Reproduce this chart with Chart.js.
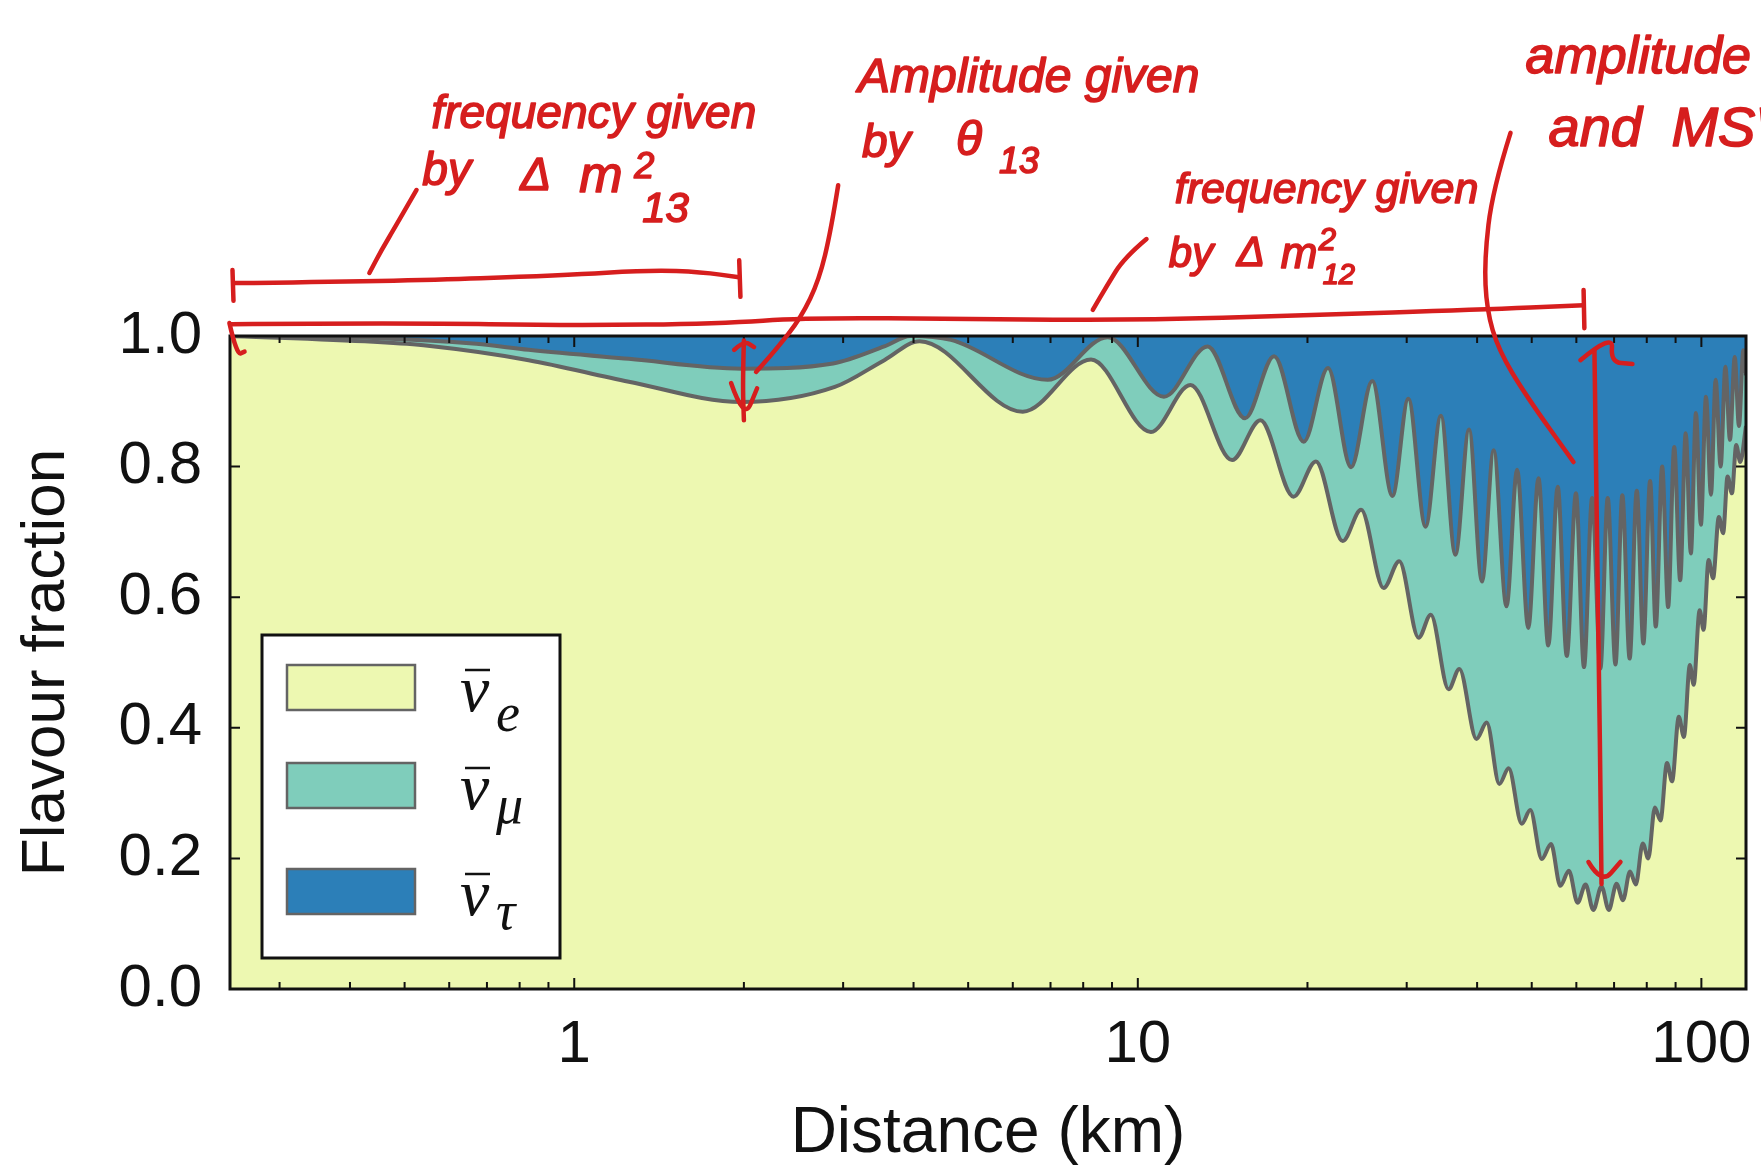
<!DOCTYPE html>
<html>
<head>
<meta charset="utf-8">
<script src="https://cdn.jsdelivr.net/npm/chart.js@4.4.1/dist/chart.umd.min.js"></script>
<style>
  html, body { margin: 0; padding: 0; background: #ffffff; }
  #wrap { width: 1761px; height: 1173px; }
</style>
</head>
<body>
<div id="wrap"><canvas id="flavour" width="1761" height="1173"></canvas></div>
<script>
// Boundary between the electron and muon antineutrino bands (= ν̄e fraction)
const nuEDistanceKm = [0.245, 0.44, 0.55, 0.83, 1.25, 1.98, 2.9, 3.55, 4.1, 6.25, 8.26, 10.55, 12.4, 14.7,
  16.5, 18.9, 20.7, 23.1, 24.9, 27.3, 29.1, 31.5, 33.1, 35.6, 37.2, 39.9, 41.6, 43.8, 45.5, 48.0, 49.7,
  52.1, 54.1, 56.2, 58.2, 60.3, 62.3, 64.3, 66.5, 68.5, 70.7, 72.6, 74.7, 76.5, 78.7, 80.5, 82.7, 84.6,
  86.9, 88.7, 91.2, 93.1, 95.4, 96.9, 99.3, 100.9, 103.0, 104.9, 107.4, 109.3, 111.3, 113.3, 115.3,
  117.2, 120];
const nuEFraction = [1.0, 0.991, 0.985, 0.963, 0.930, 0.899, 0.922, 0.963, 0.992, 0.884, 0.964, 0.853, 0.925, 0.810,
  0.871, 0.754, 0.808, 0.686, 0.734, 0.614, 0.655, 0.538, 0.573, 0.459, 0.490, 0.383, 0.408, 0.314, 0.338, 0.253, 0.274,
  0.199, 0.222, 0.158, 0.181, 0.132, 0.160, 0.121, 0.157, 0.121, 0.161, 0.136, 0.180, 0.160, 0.223, 0.200, 0.278, 0.258,
  0.346, 0.318, 0.417, 0.386, 0.496, 0.466, 0.580, 0.550, 0.657, 0.629, 0.723, 0.698, 0.785, 0.759, 0.833,
  0.807, 0.862];

// Boundary between the muon and tau antineutrino bands (= ν̄e + ν̄μ fraction)
const nuEMuDistanceKm = [0.245, 0.44, 0.67, 0.83, 1.25, 1.98, 2.88, 3.55, 3.95, 4.66, 6.92, 8.84, 11.13, 13.3,
  15.5, 17.45, 19.7, 21.75, 23.9, 26.06, 28.3, 30.2, 32.4, 34.5, 36.6, 38.7, 40.8, 42.8, 45.1, 47.1, 49.3,
  51.4, 53.5, 55.6, 57.7, 59.9, 61.9, 64.0, 66.2, 68.2, 70.4, 72.4, 74.6, 76.8, 78.9, 81.1, 83.0, 85.2,
  87.3, 89.5, 91.7, 93.8, 95.8, 97.8, 99.8, 101.9, 104.0, 106.0, 108.2, 110.3, 112.4, 114.6, 116.6, 118.7, 120];
const nuEMuFraction = [1.0, 0.997, 0.988, 0.979, 0.965, 0.950, 0.958, 0.984, 1.0, 0.994, 0.933, 0.998, 0.907, 0.984,
  0.874, 0.969, 0.838, 0.951, 0.799, 0.931, 0.755, 0.904, 0.708, 0.878, 0.665, 0.857, 0.624, 0.825, 0.586, 0.795, 0.553,
  0.782, 0.526, 0.769, 0.510, 0.759, 0.493, 0.752, 0.491, 0.752, 0.497, 0.756, 0.506, 0.763, 0.529, 0.778, 0.555, 0.800,
  0.585, 0.830, 0.626, 0.851, 0.667, 0.882, 0.711, 0.907, 0.757, 0.933, 0.800, 0.953, 0.841, 0.968, 0.862, 0.978, 0.940];

// Axis ticks
const yTickValues = [0, 0.2, 0.4, 0.6, 0.8, 1.0];
const xLabelValues = [1, 10, 100];
const xMinorTicks = [0.3, 0.4, 0.5, 0.6, 0.7, 0.8, 0.9, 2, 3, 4, 5, 6, 7, 8, 9, 20, 30, 40, 50, 60, 70, 80, 90];

// Legend entries
const legendFlavours = ['e', 'μ', 'τ'];

const COLORS = { e: '#edf8b1', mu: '#7fcdbb', tau: '#2c7fb8', edge: '#646464', ink: '#d61e1e' };

// Pen strokes of the hand-written notes, in (km, fraction) coordinates
const inkStrokes = [
  [[0.2485, 1.081], [0.49, 1.084], [0.95, 1.093], [1.37, 1.101], [1.68, 1.098], [1.96, 1.090]],
  [[0.2475, 1.101], [0.2485, 1.054]],
  [[1.962, 1.116], [1.972, 1.060]],
  [[0.2465, 1.018], [0.5, 1.020], [1.0, 1.016], [1.8, 1.019], [2.6, 1.028], [5, 1.026], [10, 1.024], [20, 1.032], [40, 1.040], [61.8, 1.047]],
  [[61.8, 1.0705], [62.0, 1.012]],
  [[0.2444, 1.02], [0.2518, 0.971], [0.26, 0.976]],
  [[2.0, 0.993], [1.99, 0.93], [2.0, 0.871]],
  [[1.922, 0.9786], [2.0, 0.993], [2.085, 0.983]],
  [[1.898, 0.928], [2.0, 0.871], [2.111, 0.920]],
  [[2.94, 1.231], [2.855, 1.162], [2.72, 1.086], [2.526, 1.028], [2.28, 0.979], [2.102, 0.945]],
  [[0.525, 1.2236], [0.4835, 1.17], [0.455, 1.1317], [0.433, 1.0965]],
  [[10.36, 1.1485], [9.45, 1.1194], [8.81, 1.0766], [8.32, 1.04]],
  [[45.85, 1.311], [42.6, 1.2236], [41.2, 1.1164], [41.6, 1.04], [43.65, 0.9786], [48.75, 0.9097], [59.3, 0.807]],
  [[64.6, 0.9786], [65.6, 0.6], [66.5, 0.1608]],
  [[61.0, 0.963], [69.8, 1.0046], [69.0, 0.960], [75.45, 0.957]],
  [[63.05, 0.1945], [66.5, 0.1608], [71.85, 0.1945]]
];

// Hand-written words: [text, km, fraction, font size]
const inkWords = [
  ['frequency given', 0.558, 1.3185, 46],
  ['by', 0.5376, 1.231, 46], ['Δ', 0.802, 1.2236, 46], ['m', 1.0206, 1.2205, 52],
  ['2', 1.278, 1.242, 36], ['13', 1.32, 1.1746, 42],
  ['Amplitude given', 3.187, 1.3737, 48],
  ['by', 3.24, 1.274, 46], ['θ', 4.756, 1.277, 48], ['13', 5.67, 1.2496, 36],
  ['frequency given', 11.63, 1.2037, 43],
  ['by', 11.35, 1.1057, 42], ['Δ', 14.98, 1.1072, 42], ['m', 17.93, 1.1041, 44],
  ['2', 20.94, 1.1317, 31], ['12', 21.28, 1.0796, 29],
  ['amplitude', 48.75, 1.4028, 52],
  ['and', 53.55, 1.291, 56],
  ['MSW', 88.5, 1.291, 56]
];

const toPoints = (xs, ys) => xs.map((x, i) => ({ x: x, y: ys[i] }));

const framePlugin = {
  id: 'framePlugin',
  beforeDatasetsDraw(chart) {
    const { ctx, chartArea: a } = chart;
    ctx.save();
    ctx.fillStyle = COLORS.tau;
    ctx.fillRect(a.left, a.top, a.right - a.left, a.bottom - a.top);
    ctx.restore();
  },
  afterDatasetsDraw(chart) {
    const { ctx, chartArea: a, scales } = chart;
    const xs = scales.x, ys = scales.y;
    ctx.save();
    ctx.strokeStyle = '#111';
    ctx.lineWidth = 2;
    // inward tick marks
    ctx.beginPath();
    xMinorTicks.concat(xLabelValues).forEach(v => {
      const px = xs.getPixelForValue(v);
      const len = xLabelValues.includes(v) ? 11 : 7;
      ctx.moveTo(px, a.bottom); ctx.lineTo(px, a.bottom - len);
      ctx.moveTo(px, a.top); ctx.lineTo(px, a.top + len);
    });
    yTickValues.forEach(v => {
      const py = ys.getPixelForValue(v);
      ctx.moveTo(a.left, py); ctx.lineTo(a.left + 10, py);
      ctx.moveTo(a.right, py); ctx.lineTo(a.right - 10, py);
    });
    ctx.stroke();
    // frame
    ctx.lineWidth = 3;
    ctx.strokeRect(a.left, a.top, a.right - a.left, a.bottom - a.top);
    ctx.restore();
  },
  afterDraw(chart) {
    const { ctx, chartArea: a, scales } = chart;
    // legend box
    const bx = a.left + 32, by = a.bottom - 354, bw = 298, bh = 323;
    ctx.save();
    ctx.fillStyle = '#ffffff';
    ctx.fillRect(bx, by, bw, bh);
    ctx.strokeStyle = '#111';
    ctx.lineWidth = 3;
    ctx.strokeRect(bx, by, bw, bh);
    const swatches = [COLORS.e, COLORS.mu, COLORS.tau];
    const rowTop = [30, 128, 234];
    legendFlavours.forEach((sub, i) => {
      const top = by + rowTop[i];
      ctx.fillStyle = swatches[i];
      ctx.fillRect(bx + 25, top, 128, 45);
      ctx.strokeStyle = COLORS.edge;
      ctx.lineWidth = 2.5;
      ctx.strokeRect(bx + 25, top, 128, 45);
      const base = top + 46;
      ctx.fillStyle = '#111';
      ctx.font = 'italic 66px "Liberation Serif"';
      ctx.textBaseline = 'alphabetic';
      ctx.textAlign = 'left';
      ctx.fillText('ν', bx + 198, base);
      ctx.strokeStyle = '#111';
      ctx.lineWidth = 2.5;
      ctx.beginPath();
      ctx.moveTo(bx + 203, base - 41);
      ctx.lineTo(bx + 228, base - 41);
      ctx.stroke();
      ctx.font = 'italic 54px "Liberation Serif"';
      ctx.fillText(sub, bx + 234, base + (sub === 'e' ? 20 : 14));
    });
    ctx.restore();

    // hand-written notes
    const px = (p) => [scales.x.getPixelForValue(p[0]), scales.y.getPixelForValue(p[1])];
    ctx.save();
    ctx.strokeStyle = COLORS.ink;
    ctx.fillStyle = COLORS.ink;
    ctx.lineWidth = 4.5;
    ctx.lineCap = 'round';
    ctx.lineJoin = 'round';
    inkStrokes.forEach(stroke => {
      const pts = stroke.map(px);
      ctx.beginPath();
      ctx.moveTo(pts[0][0], pts[0][1]);
      if (pts.length < 3) {
        ctx.lineTo(pts[1][0], pts[1][1]);
      } else {
        for (let i = 1; i < pts.length - 1; i++) {
          const mx = (pts[i][0] + pts[i + 1][0]) / 2, my = (pts[i][1] + pts[i + 1][1]) / 2;
          ctx.quadraticCurveTo(pts[i][0], pts[i][1], mx, my);
        }
        const last = pts[pts.length - 1];
        ctx.lineTo(last[0], last[1]);
      }
      ctx.stroke();
    });
    ctx.textAlign = 'left';
    ctx.textBaseline = 'alphabetic';
    ctx.lineWidth = 1.6;
    inkWords.forEach(([text, km, frac, size]) => {
      const [x, y] = px([km, frac]);
      ctx.font = 'italic ' + size + 'px "Liberation Sans"';
      ctx.fillText(text, x, y);
      ctx.strokeText(text, x, y);
    });
    ctx.restore();
  }
};

new Chart(document.getElementById('flavour'), {
  type: 'line',
  data: {
    datasets: [
      {
        label: 'ν̄e',
        data: toPoints(nuEDistanceKm, nuEFraction),
        fill: 'origin',
        backgroundColor: COLORS.e,
        borderColor: COLORS.edge,
        borderWidth: 4,
        pointRadius: 0,
        cubicInterpolationMode: 'monotone'
      },
      {
        label: 'ν̄e + ν̄μ',
        data: toPoints(nuEMuDistanceKm, nuEMuFraction),
        fill: 'origin',
        backgroundColor: COLORS.mu,
        borderColor: COLORS.edge,
        borderWidth: 4,
        pointRadius: 0,
        cubicInterpolationMode: 'monotone'
      }
    ]
  },
  options: {
    responsive: false,
    devicePixelRatio: 1,
    animation: false,
    events: [],
    layout: { padding: { top: 336, right: 15, bottom: 0, left: 0 } },
    plugins: { legend: { display: false }, tooltip: { enabled: false } },
    scales: {
      x: {
        type: 'logarithmic',
        min: 0.245,
        max: 120,
        grid: { display: false, drawTicks: false },
        border: { display: false },
        afterBuildTicks: (s) => { s.ticks = xLabelValues.map(v => ({ value: v })); },
        afterFit: (s) => { s.height = 184; s.paddingLeft = 0; s.paddingRight = 0; },
        ticks: {
          autoSkip: false,
          maxRotation: 0,
          padding: 20,
          color: '#111',
          font: { family: '"Liberation Sans", Arial, sans-serif', size: 60 },
          callback: (v) => String(v)
        },
        title: {
          display: true,
          text: 'Distance (km)',
          color: '#111',
          padding: { top: 0, bottom: 0 },
          font: { family: '"Liberation Sans", Arial, sans-serif', size: 64 }
        }
      },
      y: {
        min: 0,
        max: 1,
        grid: { display: false, drawTicks: false },
        border: { display: false },
        afterBuildTicks: (s) => { s.ticks = yTickValues.map(v => ({ value: v })); },
        afterFit: (s) => { s.width = 230; s.paddingTop = 0; s.paddingBottom = 0; },
        ticks: {
          padding: 28,
          color: '#111',
          font: { family: '"Liberation Sans", Arial, sans-serif', size: 60 },
          callback: (v) => Number(v).toFixed(1)
        },
        title: {
          display: true,
          text: 'Flavour fraction',
          color: '#111',
          padding: { top: 10, bottom: 0 },
          font: { family: '"Liberation Sans", Arial, sans-serif', size: 62 }
        }
      }
    }
  },
  plugins: [framePlugin]
});
</script>
</body>
</html>
